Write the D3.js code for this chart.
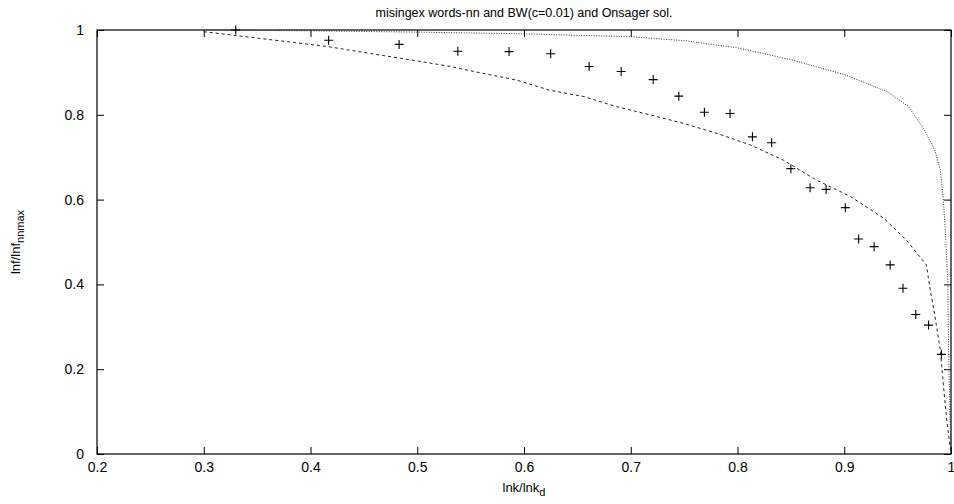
<!DOCTYPE html>
<html>
<head>
<meta charset="utf-8">
<script src="https://cdn.jsdelivr.net/npm/d3@7"></script>
<style>
  html, body { margin: 0; padding: 0; background: #fff; }
  svg { display: block; font-family: "Liberation Sans", Arial, Helvetica, sans-serif; }
</style>
</head>
<body>
<svg id="chart" width="954" height="504"></svg>
<script>
// ---- data ----
const titleText = "misingex words-nn and BW(c=0.01) and Onsager sol.";
const xTicks = [0.2, 0.3, 0.4, 0.5, 0.6, 0.7, 0.8, 0.9, 1];
const yTicks = [0, 0.2, 0.4, 0.6, 0.8, 1];

// measured points (crosses)
const pointX = [0.33, 0.417, 0.483, 0.538, 0.586, 0.625, 0.661, 0.691, 0.721, 0.745,
                0.769, 0.793, 0.814, 0.832, 0.850, 0.868, 0.883, 0.901, 0.9135, 0.928,
                0.943, 0.955, 0.967, 0.979, 0.991];
const pointY = [1.0, 0.976, 0.966, 0.950, 0.949, 0.944, 0.914, 0.902, 0.883, 0.844,
                0.806, 0.803, 0.748, 0.734, 0.673, 0.628, 0.624, 0.581, 0.507, 0.489,
                0.446, 0.391, 0.329, 0.304, 0.235];

// BW (c=0.01) curve (dashed)
const bwX = [0.3, 0.35, 0.416, 0.45, 0.5, 0.531, 0.559, 0.593, 0.624, 0.656,
             0.687, 0.718, 0.749, 0.781, 0.812, 0.843, 0.874, 0.906, 0.937, 0.958,
             0.977, 0.98, 0.985, 0.99, 0.993, 0.996, 1.0];
const bwY = [0.996, 0.981, 0.961, 0.947, 0.927, 0.914, 0.899, 0.882, 0.858, 0.843,
             0.819, 0.800, 0.780, 0.756, 0.729, 0.693, 0.646, 0.607, 0.556, 0.505,
             0.446, 0.395, 0.324, 0.245, 0.159, 0.080, 0.0];

// Onsager solution (dotted)
const onsX = [0.3, 0.4, 0.5, 0.6, 0.7, 0.75, 0.8, 0.85, 0.9, 0.94,
              0.96, 0.975, 0.985, 0.99, 0.993, 0.995, 0.997, 0.998, 1.0];
const onsY = [1.0, 0.998, 0.995, 0.991, 0.984, 0.975, 0.958, 0.93, 0.895, 0.855,
              0.82, 0.765, 0.715, 0.67, 0.595, 0.51, 0.41, 0.2, 0.0];

// ---- layout ----
const W = 954, H = 504;
const mLeft = 97, mRight = 951, mTop = 30, mBottom = 454;

const svg = d3.select("#chart");
const x = d3.scaleLinear().domain([0.2, 1]).range([mLeft, mRight]);
const y = d3.scaleLinear().domain([0, 1]).range([mBottom, mTop]);

const fmt = d => (d === 0 ? "0" : d === 1 ? "1" : d3.format(".1f")(d));

// axes with inward ticks
const tickLen = 7;
const gx = svg.append("g").attr("transform", `translate(0,${mBottom})`)
  .call(d3.axisBottom(x).tickValues(xTicks).tickFormat(fmt).tickSizeInner(-tickLen).tickSizeOuter(0).tickPadding(8));
const gxTop = svg.append("g").attr("transform", `translate(0,${mTop})`)
  .call(d3.axisTop(x).tickValues(xTicks).tickFormat("").tickSizeInner(-tickLen).tickSizeOuter(0));
const gy = svg.append("g").attr("transform", `translate(${mLeft},0)`)
  .call(d3.axisLeft(y).tickValues(yTicks).tickFormat(fmt).tickSizeInner(-tickLen).tickSizeOuter(0).tickPadding(13));
const gyR = svg.append("g").attr("transform", `translate(${mRight},0)`)
  .call(d3.axisRight(y).tickValues(yTicks).tickFormat("").tickSizeInner(-tickLen).tickSizeOuter(0));

[gx, gxTop, gy, gyR].forEach(g => {
  g.select(".domain").remove();
  g.selectAll(".tick line").attr("stroke", "#000").attr("stroke-width", 1);
  g.selectAll(".tick text").attr("font-size", 14).attr("fill", "#000")
    .attr("font-family", "\"Liberation Sans\", Arial, sans-serif");
});

// frame
svg.append("rect")
  .attr("x", mLeft).attr("y", mTop)
  .attr("width", mRight - mLeft).attr("height", mBottom - mTop)
  .attr("fill", "none").attr("stroke", "#000").attr("stroke-width", 1.2);

const line = d3.line().x(d => x(d[0])).y(d => y(d[1]));

// Onsager dotted
svg.append("path")
  .datum(onsX.map((v, i) => [v, onsY[i]]))
  .attr("d", line)
  .attr("fill", "none").attr("stroke", "#333").attr("stroke-width", 1)
  .attr("stroke-dasharray", "1,1.5");

// BW dashed
svg.append("path")
  .datum(bwX.map((v, i) => [v, bwY[i]]))
  .attr("d", line)
  .attr("fill", "none").attr("stroke", "#222").attr("stroke-width", 1)
  .attr("stroke-dasharray", "3,3");

// crosses
const s = 4.5;
const pts = pointX.map((v, i) => [v, pointY[i]]);
svg.append("g").selectAll("path.pt").data(pts).enter().append("path")
  .attr("class", "pt")
  .attr("d", d => {
    const cx = x(d[0]), cy = y(d[1]);
    return `M${cx - s},${cy}H${cx + s}M${cx},${cy - s}V${cy + s}`;
  })
  .attr("stroke", "#000").attr("stroke-width", 1.1).attr("fill", "none");

// title
svg.append("text")
  .attr("x", (mLeft + mRight) / 2).attr("y", 17)
  .attr("text-anchor", "middle").attr("font-size", 12.5)
  .text(titleText);

// x label
const xl = svg.append("text")
  .attr("x", (mLeft + mRight) / 2).attr("y", 492)
  .attr("text-anchor", "middle").attr("font-size", 13);
xl.append("tspan").text("lnk/lnk");
xl.append("tspan").attr("font-size", 11).attr("dy", 4).text("d");

// y label
const yl = svg.append("text")
  .attr("transform", `translate(20,${(mTop + mBottom) / 2}) rotate(-90)`)
  .attr("text-anchor", "middle").attr("font-size", 13);
yl.append("tspan").text("lnf/lnf");
yl.append("tspan").attr("font-size", 11).attr("dy", 4).text("nnmax");
</script>
</body>
</html>
